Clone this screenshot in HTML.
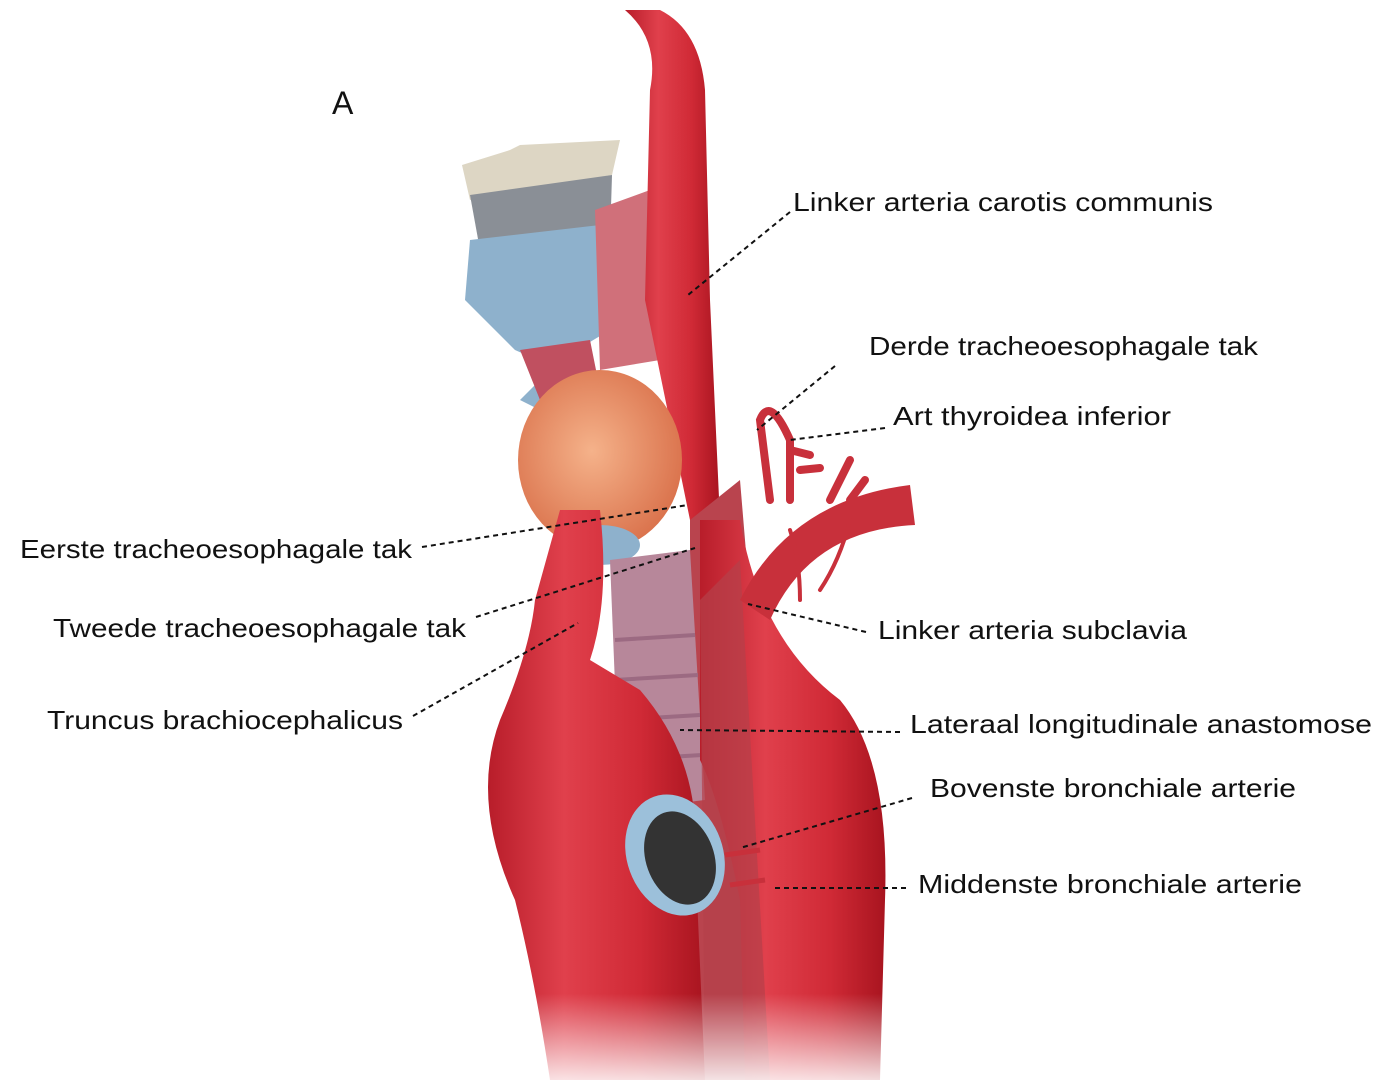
<!DOCTYPE html>
<html><head><meta charset="utf-8"><style>
html,body{margin:0;padding:0;background:#fff;}
svg{display:block;}
text{font-family:"Liberation Sans",sans-serif;font-size:26px;fill:#111;}
</style></head><body>
<svg width="1390" height="1080" viewBox="0 0 1390 1080" xmlns="http://www.w3.org/2000/svg">
<defs>
<linearGradient id="ao" x1="0" x2="1" y1="0" y2="0">
<stop offset="0" stop-color="#b81d2a"/><stop offset="0.35" stop-color="#e0404c"/><stop offset="0.7" stop-color="#d02a36"/><stop offset="1" stop-color="#a8141f"/>
</linearGradient>
<linearGradient id="fade" x1="0" x2="0" y1="0" y2="1">
<stop offset="0.92" stop-color="#fff" stop-opacity="0"/><stop offset="1" stop-color="#fff" stop-opacity="0.85"/>
</linearGradient>
<radialGradient id="thy" cx="0.45" cy="0.45" r="0.6">
<stop offset="0" stop-color="#f5b28a"/><stop offset="1" stop-color="#d9704a"/>
</radialGradient>
</defs>
<!-- larynx top -->
<path d="M462 165 L510 150 L520 145 L620 140 L612 175 L470 200 Z" fill="#ddd6c4"/>
<path d="M470 195 L612 175 L610 240 L480 250 Z" fill="#8a8f96"/>
<path d="M470 240 L600 225 L610 330 L560 360 L520 400 L540 410 L590 400 L600 380 L560 370 L515 350 L465 300 Z" fill="#8eb1cc"/>
<path d="M520 350 L590 340 L600 390 L540 400 Z" fill="#c05060"/>
<path d="M595 210 L650 190 L660 360 L600 370 Z" fill="#d0707a"/>
<!-- carotid -->
<path d="M625 10 Q660 40 650 90 L645 300 L690 520 L720 520 L710 300 L705 90 Q700 30 660 10 Z" fill="url(#ao)"/>
<!-- thyroid -->
<ellipse cx="600" cy="460" rx="82" ry="90" fill="url(#thy)"/>
<ellipse cx="600" cy="545" rx="40" ry="20" fill="#8eb1cc"/>
<!-- muscle behind -->
<path d="M690 520 L740 480 L790 1080 L690 1080 Z" fill="#b9444e"/>
<!-- trachea -->
<path d="M610 560 L690 550 L705 800 L620 810 Z" fill="#b7879a"/>
<g stroke="#9c6a82" stroke-width="4">
<line x1="615" y1="640" x2="695" y2="635"/><line x1="615" y1="680" x2="698" y2="675"/>
<line x1="617" y1="720" x2="700" y2="715"/><line x1="619" y1="760" x2="702" y2="755"/>
</g>
<!-- brachiocephalic and ascending aorta -->
<path d="M560 510 L600 510 Q610 600 590 660 L640 690 Q700 760 695 850 L705 1080 L550 1080 Q535 980 515 900 Q470 800 500 720 Q530 650 535 600 Z" fill="url(#ao)"/>
<!-- descending aorta -->
<path d="M700 520 L740 520 Q760 640 840 700 Q890 760 885 900 L880 1080 L745 1080 L740 900 Q720 800 700 760 Z" fill="url(#ao)"/>
<path d="M700 600 L740 560 L770 1080 L705 1080 Z" fill="#b5404a" opacity="0.7"/>
<!-- subclavian -->
<path d="M740 600 Q790 500 910 485 L915 525 Q810 530 770 620 Z" fill="#c8303b"/>
<g stroke="#c8303b" stroke-width="8" fill="none" stroke-linecap="round">
<path d="M770 500 L760 420 Q770 395 790 440 L790 500"/>
<path d="M790 450 L810 455"/><path d="M800 470 L820 468"/>
<path d="M830 500 L850 460"/><path d="M850 500 L865 480"/>
<path d="M790 530 Q800 560 800 600" stroke-width="4"/>
<path d="M850 520 Q840 560 820 590" stroke-width="4"/>
</g>
<!-- bronchus -->
<ellipse cx="675" cy="855" rx="48" ry="62" fill="#9cc0da" transform="rotate(-20 675 855)"/>
<ellipse cx="680" cy="858" rx="34" ry="48" fill="#333" transform="rotate(-20 680 858)"/>
<path d="M725 855 L760 850 M730 885 L765 880" stroke="#c8303b" stroke-width="5"/>
<rect x="0" y="0" width="1390" height="1080" fill="url(#fade)"/>
<!-- labels -->
<text x="332" y="114" style="font-size:32px">A</text>
<g stroke="#111" stroke-width="2" stroke-dasharray="5,4" fill="none">
<line x1="790" y1="212" x2="688" y2="295"/>
<line x1="835" y1="366" x2="757" y2="430"/>
<line x1="885" y1="428" x2="790" y2="440"/>
<line x1="422" y1="547" x2="688" y2="505"/>
<line x1="476" y1="617" x2="695" y2="548"/>
<line x1="866" y1="632" x2="748" y2="604"/>
<line x1="413" y1="716" x2="578" y2="623"/>
<line x1="900" y1="732" x2="680" y2="730"/>
<line x1="912" y1="798" x2="740" y2="848"/>
<line x1="906" y1="888" x2="772" y2="888"/>
</g>
<text x="793" y="211" textLength="420" lengthAdjust="spacingAndGlyphs">Linker arteria carotis communis</text>
<text x="869" y="355" textLength="389" lengthAdjust="spacingAndGlyphs">Derde tracheoesophagale tak</text>
<text x="893" y="425" textLength="278" lengthAdjust="spacingAndGlyphs">Art thyroidea inferior</text>
<text x="20" y="558" textLength="392" lengthAdjust="spacingAndGlyphs">Eerste tracheoesophagale tak</text>
<text x="53" y="637" textLength="413" lengthAdjust="spacingAndGlyphs">Tweede tracheoesophagale tak</text>
<text x="878" y="639" textLength="309" lengthAdjust="spacingAndGlyphs">Linker arteria subclavia</text>
<text x="47" y="729" textLength="356" lengthAdjust="spacingAndGlyphs">Truncus brachiocephalicus</text>
<text x="910" y="733" textLength="462" lengthAdjust="spacingAndGlyphs">Lateraal longitudinale anastomose</text>
<text x="930" y="797" textLength="366" lengthAdjust="spacingAndGlyphs">Bovenste bronchiale arterie</text>
<text x="918" y="893" textLength="384" lengthAdjust="spacingAndGlyphs">Middenste bronchiale arterie</text>
</svg>
</body></html>
